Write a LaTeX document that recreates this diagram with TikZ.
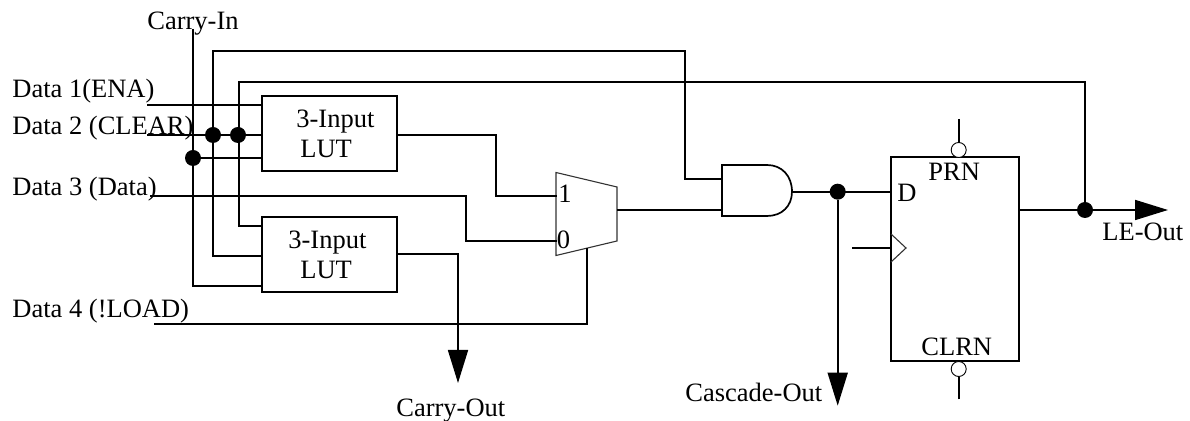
\documentclass[tikz,border=0pt]{standalone}
\usepackage{fontspec}
\setmainfont{Liberation Serif}
\usetikzlibrary{arrows.meta}
\tikzset{
  wire/.style={line width=0.85pt,line join=miter,line cap=butt},
  thin wire/.style={line width=0.55pt,draw=black!80},
  big arrow/.style={wire,-{Triangle[length=16.5pt,width=10pt]}},
  lbl/.style={anchor=base west,inner sep=0pt,font=\fontsize{13.25}{15}\selectfont},
  lutbox/.style={draw,line width=0.85pt,minimum width=67.5pt,minimum height=37.5pt,inner sep=0pt},
  ffbox/.style={draw,line width=0.85pt,minimum width=64pt,minimum height=102pt,inner sep=0pt},
  dot/.style={circle,fill=black,draw=none,minimum size=8pt,inner sep=0pt},
  bubble/.style={circle,draw,fill=white,line width=0.45pt,minimum size=7.5pt,inner sep=0pt}
}
\begin{document}
\begin{tikzpicture}[x=0.5pt,y=-0.5pt]
\useasboundingbox (0,0) rectangle (1190,421);
% blocks
\node[lutbox] (lutA) at (329.5,133.5) {};
\node[lutbox] (lutB) at (329.5,254.5) {};
\node[ffbox] (ff) at (955,259) {};
% mux
\coordinate (m1) at (556,172.5);
\coordinate (m2) at (617,187);
\coordinate (m3) at (617,241);
\coordinate (m4) at (556,255.5);
\draw[thin wire] (m1) -- (m2) -- (m3) -- (m4) -- cycle;
% and gate
\coordinate (andT) at (722,165);
\coordinate (andB) at (722,216);
\coordinate (andO) at (792,191.7);
\draw[wire] (andT) -- (767,165) .. controls (782,165) and (792,176) .. (andO)
  .. controls (792,206) and (782,216) .. (767,216) -- (andB) -- cycle;
% junctions
\node[dot] (j1) at (213,135) {};
\node[dot] (j2) at (238,135) {};
\node[dot] (j3) at (193,158) {};
\node[dot] (j4) at (837.7,191.7) {};
\node[dot] (j5) at (1085,210) {};
% free ends
\coordinate (ci) at (193,29);
\coordinate (d1) at (147,105);
\coordinate (d2) at (147,135);
\coordinate (d3) at (150,196);
\coordinate (d4) at (154,324);
% wires
\draw[wire] (ci) -- (193,286) -- (lutB.west |- 0,286);
\draw[wire] (j3) -- (lutA.west |- j3);
\draw[wire] (d1) -- (lutA.west |- d1);
\draw[wire] (d2) -- (lutA.west |- d2);
\draw[wire] (lutB.west |- 0,256) -- (213,256) -- (213,51) -- (685,51) -- (685,179) -- (andT |- 0,179);
\draw[wire] (lutB.west |- 0,226) -- (239,226) -- (239,82) -- (1085,82) -- (j5);
\draw[wire] (lutA.east |- 0,135) -- (496,135) -- (496,196) -- (557,196);
\draw[wire] (d3) -- (466,196) -- (466,241) -- (557,241);
\draw[big arrow] (lutB.east |- 0,254) -- (458,254) -- (458,383);
\draw[wire] (d4) -- (587,324) -- (587,248);
\draw[wire] (m3 |- 0,210) -- (andB |- 0,210);
\draw[wire] (andO) -- (ff.west |- andO);
\draw[big arrow] (j4) -- (837.7,405.7);
\draw[big arrow] (ff.east |- j5) -- (1168,210);
% flip-flop details
\coordinate (clkT) at (891,234);
\coordinate (clkP) at (906,248);
\coordinate (clkB) at (891,262);
\coordinate (clkI) at (852,248);
\draw[thin wire] (clkT) -- (clkP) -- (clkB);
\draw[wire] (clkI) -- (ff.west |- clkI);
\node[bubble] (prn) at (958.7,150) {};
\node[bubble] (clrn) at (958.7,369) {};
\coordinate (prnI) at (958.7,119);
\coordinate (clrnI) at (958.7,399.5);
\draw[wire] (prnI) -- (prn);
\draw[wire] (clrnI) -- (clrn);
% labels
\node[lbl] (tCI) at (147,30) {Carry-In};
\node[lbl] (tD1) at (12,98) {Data 1(ENA)};
\node[lbl] (tD2) at (12,135) {Data 2 (CLEAR)};
\node[lbl] (tD3) at (12,196) {Data 3 (Data)};
\node[lbl] (tD4) at (12,318) {Data 4 (!LOAD)};
\node[lbl] (tA1) at (296,128) {3-Input};
\node[lbl] (tA2) at (300,158) {LUT};
\node[lbl] (tB1) at (288,249) {3-Input};
\node[lbl] (tB2) at (300,279) {LUT};
\node[lbl] (tM1) at (558,203) {1};
\node[lbl] (tM0) at (556.5,249) {0};
\node[lbl] (tCO) at (396,417) {Carry-Out};
\node[lbl] (tCas) at (685,402) {Cascade-Out};
\node[lbl] (tD) at (897,202) {D};
\node[lbl] (tPRN) at (928,181) {PRN};
\node[lbl] (tCLRN) at (921,356) {CLRN};
\node[lbl] (tLE) at (1102,241) {LE-Out};
\end{tikzpicture}
\end{document}
